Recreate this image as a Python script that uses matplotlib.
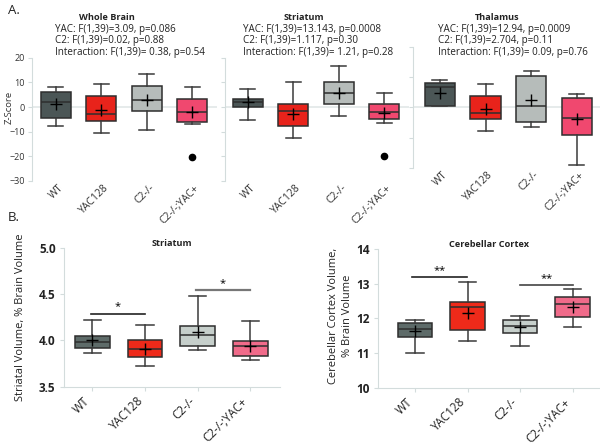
import matplotlib
matplotlib.use('Agg')
import matplotlib.pyplot as plt
from matplotlib.transforms import ScaledTranslation

plt.rcParams['font.family'] = ['Open Sans', 'DejaVu Sans']

groups = ['WT', 'YAC128', 'C2-/-', 'C2-/-;YAC+']

# A. z-scores (whisker low, q1, median, q3, whisker high, mean)
wb_lo = [-7.7, -10.5, -9.2, -6.7]
wb_q1 = [-4.4, -5.6, -1.7, -6.1]
wb_med = [2.2, -3.0, 2.9, -2.2]
wb_q3 = [6.1, 4.4, 8.4, 3.2]
wb_hi = [8.0, 9.2, 13.4, 8.0]
wb_mean = [1.4, -1.1, 2.7, -1.9]
wb_out = [[], [], [], [-20.1]]

st_lo = [-5.4, -12.4, -3.6, -6.5]
st_q1 = [0.0, -7.6, 1.4, -5.0]
st_med = [1.9, -1.5, 5.5, -2.2]
st_q3 = [3.4, 1.1, 10.0, 1.1]
st_hi = [7.4, 10.0, 16.8, 5.5]
st_mean = [1.9, -2.8, 5.8, -2.3]
st_out = [[], [], [], [-19.8]]

th_lo = [0.3, -7.7, -6.4, -18.9]
th_q1 = [0.5, -3.8, -4.9, -9.0]
th_med = [6.6, -2.0, 0.3, -3.6]
th_q3 = [7.9, 3.6, 10.4, 3.0]
th_hi = [9.0, 7.6, 12.1, 4.5]
th_mean = [4.6, -0.7, 2.4, -3.8]
th_out = [[], [], [], []]

wb_text = ['YAC: F(1,39)=3.09, p=0.086', 'C2: F(1,39)=0.02, p=0.88',
           'Interaction: F(1,39)= 0.38, p=0.54']
st_text = ['YAC: F(1,39)=13.143, p=0.0008', 'C2: F(1,39)=1.117, p=0.30',
           'Interaction: F(1,39)= 1.21, p=0.28']
th_text = ['YAC: F(1,39)=12.94, p=0.0009', 'C2: F(1,39)=2.704, p=0.11',
           'Interaction: F(1,39)= 0.09, p=0.76']

# B. volumes, % brain volume
sv_lo = [3.868, 3.725, 3.893, 3.786]
sv_q1 = [3.918, 3.818, 3.943, 3.836]
sv_med = [3.986, 3.904, 4.061, 3.943]
sv_q3 = [4.046, 4.0, 4.157, 3.996]
sv_hi = [4.225, 4.168, 4.479, 4.204]
sv_mean = [4.0, 3.91, 4.086, 3.94]

cc_lo = [11.0, 11.34, 11.2, 11.76]
cc_q1 = [11.46, 11.65, 11.59, 12.04]
cc_med = [11.69, 12.33, 11.78, 12.41]
cc_q3 = [11.87, 12.47, 11.94, 12.63]
cc_hi = [11.94, 13.06, 12.07, 12.84]
cc_mean = [11.64, 12.16, 11.76, 12.33]

top_colors = ['#4b5656', '#e8231b', '#b6bcba', '#f0486f']
bot_colors = ['#5e6b69', '#ee2a1a', '#c6cfcb', '#f06b8a']

fig = plt.figure(figsize=(6, 4.45), dpi=100)
W, H = 600.0, 445.0


def add_ax(x0, y0, x1, y1):
    return fig.add_axes([x0 / W, 1 - y1 / H, (x1 - x0) / W, (y1 - y0) / H])


def boxes(ax, lo, q1, med, q3, hi, mean, colors, fliers=None):
    stats = []
    for i in range(4):
        stats.append(dict(whislo=lo[i], q1=q1[i], med=med[i], q3=q3[i],
                          whishi=hi[i], mean=mean[i],
                          fliers=fliers[i] if fliers else []))
    bp = ax.bxp(stats, positions=[1, 2, 3, 4], widths=0.66, patch_artist=True,
                showmeans=True, manage_ticks=False,
                boxprops=dict(edgecolor='#2e2e2e', linewidth=1.1),
                medianprops=dict(color='#2e2e2e', linewidth=1.1),
                whiskerprops=dict(color='#3a3a3a', linewidth=1.1),
                capprops=dict(color='#3a3a3a', linewidth=1.1),
                meanprops=dict(marker='+', markeredgecolor='black',
                               markersize=8, markeredgewidth=1.0),
                flierprops=dict(marker='o', markerfacecolor='black',
                                markeredgecolor='black', markersize=4.5))
    for patch, c in zip(bp['boxes'], colors):
        patch.set_facecolor(c)
    return bp


def shift_labels(ax, dx, dy):
    off = ScaledTranslation(dx / 100.0, -dy / 100.0, fig.dpi_scale_trans)
    for lab in ax.get_xticklabels():
        lab.set_transform(lab.get_transform() + off)


grey = '#d3dcdc'

# ---- A panels
specs = [
    (32, 57.7, 217, 181, (0.48, 4.55), (-30, 20), wb_lo, wb_q1, wb_med, wb_q3, wb_hi, wb_mean, wb_out),
    (225, 57.7, 409, 181, (0.5, 4.55), (-30, 20), st_lo, st_q1, st_med, st_q3, st_hi, st_mean, st_out),
    (413, 46.7, 600, 168, (0.41, 4.51), (-20, 20), th_lo, th_q1, th_med, th_q3, th_hi, th_mean, th_out),
]
top_axes = []
for k, s in enumerate(specs):
    ax = add_ax(*s[:4])
    ax.axhline(0, color='#e2e7e7', lw=1.2, zorder=0)
    boxes(ax, *s[6:12], top_colors, fliers=s[12])
    ax.set_xlim(*s[4])
    ax.set_ylim(*s[5])
    ax.set_yticks(range(s[5][0], s[5][1] + 1, 10))
    for sp in ['top', 'right', 'bottom']:
        ax.spines[sp].set_visible(False)
    ax.spines['left'].set_color(grey)
    ax.tick_params(axis='y', length=3, color=grey, labelsize=6.5,
                   labelcolor='#333333', pad=2)
    ax.tick_params(axis='x', length=0, pad=1)
    ax.set_xticks([1, 2, 3, 4])
    ax.set_xticklabels(groups, rotation=45, ha='right', fontsize=7.5,
                       color='#333333')
    shift_labels(ax, 10, 0)
    if k > 0:
        ax.set_yticklabels([])
    top_axes.append(ax)
fig.text(9 / W, 1 - 107 / H, 'Z-Score', rotation=90, ha='center',
         va='center', fontsize=6.8, color='#333333')

titles = [('Whole Brain', 106.7, 55, wb_text),
          ('Striatum', 303.5, 243.3, st_text),
          ('Thalamus', 497, 438.3, th_text)]
for name, cx, lx, lines in titles:
    fig.text(cx / W, 1 - 17.5 / H, name, ha='center', va='center',
             fontsize=6.6, fontweight='bold', color='#222222')
    for j, t in enumerate(lines):
        fig.text(lx / W, 1 - (29.3 + 11.5 * j) / H, t, ha='left',
                 va='center', fontsize=7.1, color='#222222')

fig.text(8 / W, 1 - 10 / H, 'A.', fontsize=9.5, va='center', color='#222222')
fig.text(8 / W, 1 - 217 / H, 'B.', fontsize=9.5, va='center', color='#222222')

# ---- B panels
def bottom_axes(x0, y0, x1, y1, xl, yl, yt, fmt):
    ax = add_ax(x0, y0, x1, y1)
    ax.set_xlim(*xl)
    ax.set_ylim(*yl)
    ax.set_yticks(yt)
    ax.set_yticklabels([fmt.format(v) for v in yt], fontweight='bold',
                       fontsize=8.5, color='#222222')
    ax.set_xticks([1, 2, 3, 4])
    ax.set_xticklabels(groups, rotation=45, ha='right', fontsize=8.4,
                       color='#222222')
    shift_labels(ax, 14, 2)
    for sp in ['top', 'right']:
        ax.spines[sp].set_visible(False)
    for sp in ['left', 'bottom']:
        ax.spines[sp].set_color(grey)
    ax.tick_params(length=3, color=grey, pad=3)
    return ax


ax4 = bottom_axes(64, 247.7, 280, 386.7, (0.463, 4.56), (3.5, 5.0),
                  [3.5, 4.0, 4.5, 5.0], '{:.1f}')
boxes(ax4, sv_lo, sv_q1, sv_med, sv_q3, sv_hi, sv_mean, bot_colors)
ax4.plot([0.97, 1.99], [4.286, 4.286], color='#222222', lw=1.2)
ax4.text(1.48, 4.30, '*', ha='center', va='bottom', fontsize=8)
ax4.plot([2.96, 3.99], [4.539, 4.539], color='#777777', lw=1.6)
ax4.text(3.48, 4.555, '*', ha='center', va='bottom', fontsize=8)
ax4.set_ylabel('Striatal Volume, % Brain Volume', fontsize=8,
               color='#222222', labelpad=9)
ax4.set_title('Striatum', fontsize=6.6, fontweight='bold', pad=-2,
              color='#222222')

ax5 = bottom_axes(378.3, 249, 600, 387.7, (0.30, 4.52), (10, 14),
                  [10, 11, 12, 13, 14], '{:d}')
boxes(ax5, cc_lo, cc_q1, cc_med, cc_q3, cc_hi, cc_mean, bot_colors)
ax5.plot([0.95, 1.99], [13.19, 13.19], color='#222222', lw=1.2)
ax5.text(1.47, 13.22, '**', ha='center', va='bottom', fontsize=8)
ax5.plot([2.99, 4.0], [12.97, 12.97], color='#444444', lw=1.2)
ax5.text(3.5, 13.0, '**', ha='center', va='bottom', fontsize=8)
fig.text(333 / W, 1 - 316 / H, 'Cerebellar Cortex Volume,', rotation=90,
         ha='center', va='center', fontsize=8, color='#222222')
fig.text(348 / W, 1 - 316 / H, '% Brain Volume', rotation=90,
         ha='center', va='center', fontsize=8, color='#222222')
ax5.set_title('Cerebellar Cortex', fontsize=6.6, fontweight='bold', pad=-2,
              color='#222222')

fig.savefig('out.png', dpi=100)
